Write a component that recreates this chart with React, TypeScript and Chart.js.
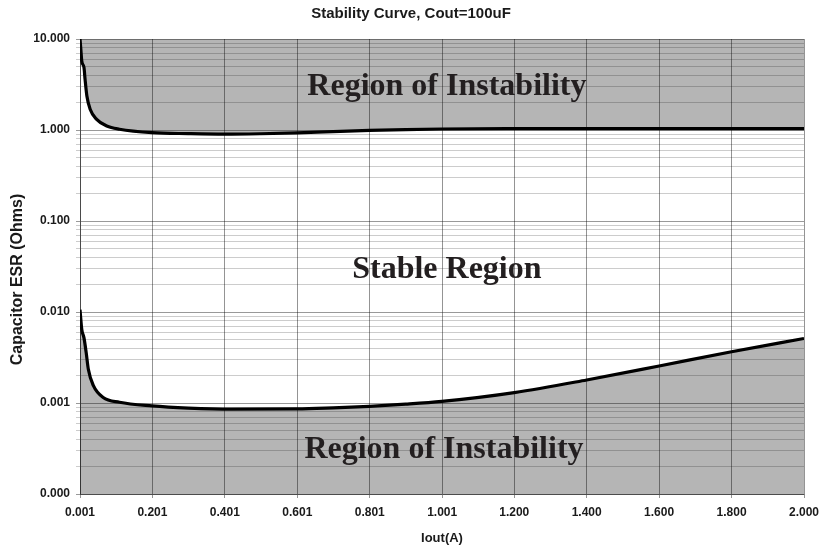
import React, { useEffect, useRef } from "react";
import { Chart, registerables } from "chart.js";

Chart.register(...registerables);

// ---- Data ----
const ioutUpper = [0.001, 0.003, 0.006, 0.012, 0.015, 0.02, 0.029, 0.047, 0.075, 0.11, 0.2, 0.3, 0.4, 0.5, 0.6, 0.7, 0.8, 0.9, 1.0, 1.2, 1.4, 1.6, 1.8, 2.0];
const esrUpper = [10, 8.0, 5.7, 4.85, 3.6, 2.36, 1.69, 1.31, 1.106, 1.02, 0.935, 0.912, 0.9, 0.91, 0.93, 0.962, 0.99, 1.012, 1.026, 1.033, 1.033, 1.033, 1.033, 1.033];

const ioutLower = [0.001, 0.006, 0.012, 0.018, 0.024, 0.038, 0.065, 0.11, 0.2, 0.3, 0.42, 0.6, 0.7, 0.8, 0.9, 1.0, 1.2, 1.4, 1.6, 1.8, 2.0];
const esrLower = [0.0106, 0.0064, 0.0052, 0.0036, 0.00235, 0.00155, 0.00115, 0.00102, 0.00093, 0.00088, 0.000855, 0.00086, 0.000885, 0.00092, 0.00097, 0.00104, 0.0013, 0.00179, 0.00255, 0.00366, 0.00512];

const xTickValues = [0.001, 0.201, 0.401, 0.601, 0.801, 1.001, 1.2, 1.4, 1.6, 1.8, 2.0];
const xTickLabels = ["0.001", "0.201", "0.401", "0.601", "0.801", "1.001", "1.200", "1.400", "1.600", "1.800", "2.000"];

const yDecades = [0.0001, 0.001, 0.01, 0.1, 1, 10];

const regionLabels = ["Region of Instability", "Stable Region", "Region of Instability"];
const regionX = [1.014, 1.014, 1.006];
const regionY = [3.02, 0.0294, 0.000307];

const TITLE = "Stability Curve, Cout=100uF";
const Y_TITLE = "Capacitor ESR (Ohms)";
const X_TITLE = "Iout(A)";

const SANS = "'Liberation Sans', Arial, sans-serif";
const SERIF = "'Liberation Serif', 'Times New Roman', serif";

function isDecade(v: number) {
  const e = Math.floor(Math.log10(v) + 1e-9);
  const m = v / Math.pow(10, e);
  return Math.abs(m - 1) < 1e-6;
}

function buildYTicks() {
  const ticks: number[] = [];
  for (let i = 0; i < yDecades.length - 1; i++) {
    for (let m = 1; m <= 9; m++) ticks.push(+(yDecades[i] * m).toPrecision(6));
  }
  ticks.push(yDecades[yDecades.length - 1]);
  return ticks;
}

const overlayPlugin = {
  id: "overlay",
  afterDatasetsDraw(chart: any) {
    const { ctx, scales } = chart;
    ctx.save();
    ctx.fillStyle = "#231f20";
    ctx.font = `bold 32px ${SERIF}`;
    ctx.textAlign = "center";
    ctx.textBaseline = "middle";
    regionLabels.forEach((t, i) => {
      ctx.fillText(t, scales.x.getPixelForValue(regionX[i]), scales.y.getPixelForValue(regionY[i]));
    });
    ctx.restore();
  },
  afterDraw(chart: any) {
    const { ctx, chartArea } = chart;
    ctx.save();
    ctx.fillStyle = "#1a1a1a";
    ctx.font = `bold 16px ${SANS}`;
    ctx.textAlign = "center";
    ctx.textBaseline = "middle";
    ctx.translate(chartArea.left - 62, (chartArea.top + chartArea.bottom) / 2 + 13);
    ctx.rotate(-Math.PI / 2);
    ctx.fillText(Y_TITLE, 0, 0);
    ctx.restore();
  },
};

export default function App() {
  const ref = useRef<HTMLCanvasElement | null>(null);

  useEffect(() => {
    document.body.style.margin = "0";
    if (!ref.current) return;
    const upper = ioutUpper.map((x, i) => ({ x, y: esrUpper[i] }));
    const lower = ioutLower.map((x, i) => ({ x, y: esrLower[i] }));
    const yTicks = buildYTicks();

    const chart = new Chart(ref.current, {
      type: "line",
      data: {
        datasets: [
          {
            label: "Upper limit",
            data: upper,
            borderColor: "#000",
            borderWidth: 3.2,
            pointRadius: 0,
            cubicInterpolationMode: "monotone",
            fill: "end",
            backgroundColor: "rgba(0,0,0,0.29)",
          },
          {
            label: "Lower limit",
            data: lower,
            borderColor: "#000",
            borderWidth: 3.2,
            pointRadius: 0,
            cubicInterpolationMode: "monotone",
            fill: "start",
            backgroundColor: "rgba(0,0,0,0.29)",
          },
        ],
      },
      options: {
        animation: false,
        responsive: false,
        events: [],
        layout: { padding: { left: 0, right: 0, top: 0, bottom: 0 } },
        plugins: {
          legend: { display: false },
          tooltip: { enabled: false },
          title: {
            display: true,
            text: TITLE,
            color: "#1a1a1a",
            font: { family: SANS, size: 15, weight: "bold" },
            padding: { top: 5, bottom: 16 },
          },
        },
        scales: {
          x: {
            type: "linear",
            min: 0.001,
            max: 2.0,
            afterBuildTicks: (scale: any) => {
              scale.ticks = xTickValues.map((v) => ({ value: v }));
            },
            afterFit: (scale: any) => {
              scale.height = 54;
              scale.paddingLeft = 0;
              scale.paddingRight = 18;
            },
            ticks: {
              autoSkip: false,
              maxRotation: 0,
              padding: 7,
              color: "#1a1a1a",
              font: { family: SANS, size: 12, weight: "bold" },
              callback: (_v: any, i: number) => xTickLabels[i],
            },
            grid: {
              color: "rgba(0,0,0,0.42)",
              lineWidth: 1,
              tickLength: 4,
            },
            border: { color: "rgba(0,0,0,0.5)", width: 1 },
            title: {
              display: true,
              text: X_TITLE,
              color: "#1a1a1a",
              font: { family: SANS, size: 13, weight: "bold" },
              padding: { top: 0, bottom: 2 },
            },
          },
          y: {
            type: "logarithmic",
            min: 0.0001,
            max: 10,
            afterBuildTicks: (scale: any) => {
              scale.ticks = yTicks.map((v) => ({ value: v }));
            },
            afterFit: (scale: any) => {
              scale.width = 80;
            },
            ticks: {
              autoSkip: false,
              padding: 6,
              color: "#1a1a1a",
              font: { family: SANS, size: 12, weight: "bold" },
              callback: (v: any) => (isDecade(Number(v)) ? Number(v).toFixed(3) : ""),
            },
            grid: {
              color: (ctx: any) =>
                ctx.tick && isDecade(ctx.tick.value) ? "rgba(0,0,0,0.4)" : "rgba(0,0,0,0.2)",
              lineWidth: 1,
              tickLength: 4,
            },
            border: { color: "rgba(0,0,0,0.5)", width: 1 },
          },
        },
      },
      plugins: [overlayPlugin],
    } as any);

    return () => chart.destroy();
  }, []);

  return (
    <div style={{ width: 822, height: 548 }}>
      <canvas ref={ref} width={822} height={548} style={{ display: "block" }} />
    </div>
  );
}
